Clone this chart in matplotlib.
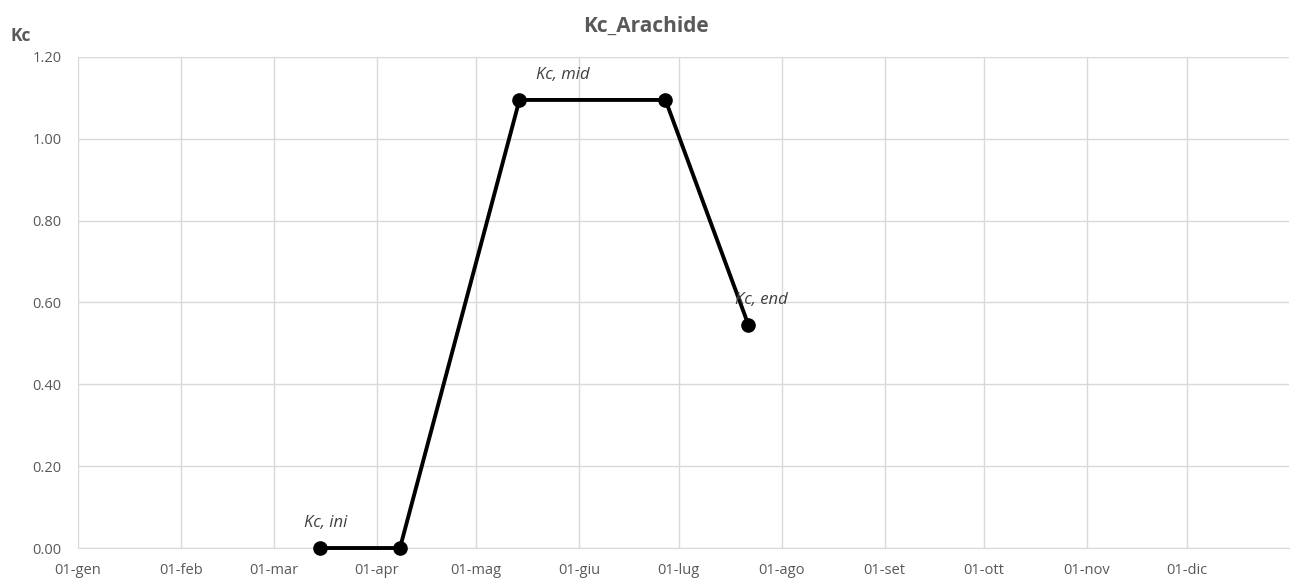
import matplotlib
matplotlib.use('Agg')
import matplotlib.pyplot as plt
import matplotlib.dates as mdates
import pandas as pd
import numpy as np

plt.rcParams['font.family'] = ['Open Sans', 'DejaVu Sans']

# dati Kc arachide
date = pd.to_datetime(['2023-03-15', '2023-04-08', '2023-05-14', '2023-06-27', '2023-07-22'])
kc = [0.0, 0.0, 1.095, 1.095, 0.545]
etichette = ['Kc, ini', None, 'Kc, mid', None, 'Kc, end']
mesi = ['gen', 'feb', 'mar', 'apr', 'mag', 'giu', 'lug', 'ago', 'set', 'ott', 'nov', 'dic']
y_ticks = [0.0, 0.2, 0.4, 0.6, 0.8, 1.0, 1.2]

grigio = '#595959'

fig = plt.figure(figsize=(12.92, 5.79), dpi=100)
ax = fig.add_axes([0.0604, 0.0535, 0.9376, 0.8481])

inizi_mese = pd.date_range('2023-01-01', periods=12, freq='MS')
ax.set_xticks(mdates.date2num(inizi_mese))
ax.set_xticklabels(['01-' + m for m in mesi])
ax.set_xlim(mdates.date2num(pd.Timestamp('2023-01-01')), mdates.date2num(pd.Timestamp('2024-01-01')))
ax.set_ylim(0, 1.2)
ax.set_yticks(y_ticks)
ax.set_yticklabels(['%.2f' % v for v in y_ticks])

ax.grid(True, color='#d9d9d9', lw=1)
ax.set_axisbelow(True)
for s in ['left', 'right', 'top']:
    ax.spines[s].set_visible(False)
ax.spines['bottom'].set_color('#d9d9d9')
ax.tick_params(length=0, labelsize=10.5, colors=grigio)
ax.tick_params(axis='x', pad=11)
ax.tick_params(axis='y', pad=12)

x = mdates.date2num(date)
ax.plot(x, kc, color='black', lw=2.8, marker='o', markersize=9.5, clip_on=False, zorder=3)

offsets = {'Kc, ini': (-12, 12), 'Kc, mid': (12, 12), 'Kc, end': (-10, 12)}
for xi, yi, lab in zip(x, kc, etichette):
    if lab:
        ax.annotate(lab, (xi, yi), xytext=offsets[lab], textcoords='offset points',
                    fontsize=12, style='italic', color='#404040', ha='left', va='bottom')

fig.text(0.5, 0.955, 'Kc_Arachide', ha='center', va='center', fontsize=15, fontweight='bold', color=grigio)
fig.text(0.008, 0.937, 'Kc', ha='left', va='center', fontsize=12.5, fontweight='bold', color=grigio)

plt.savefig('out.png', dpi=100)
